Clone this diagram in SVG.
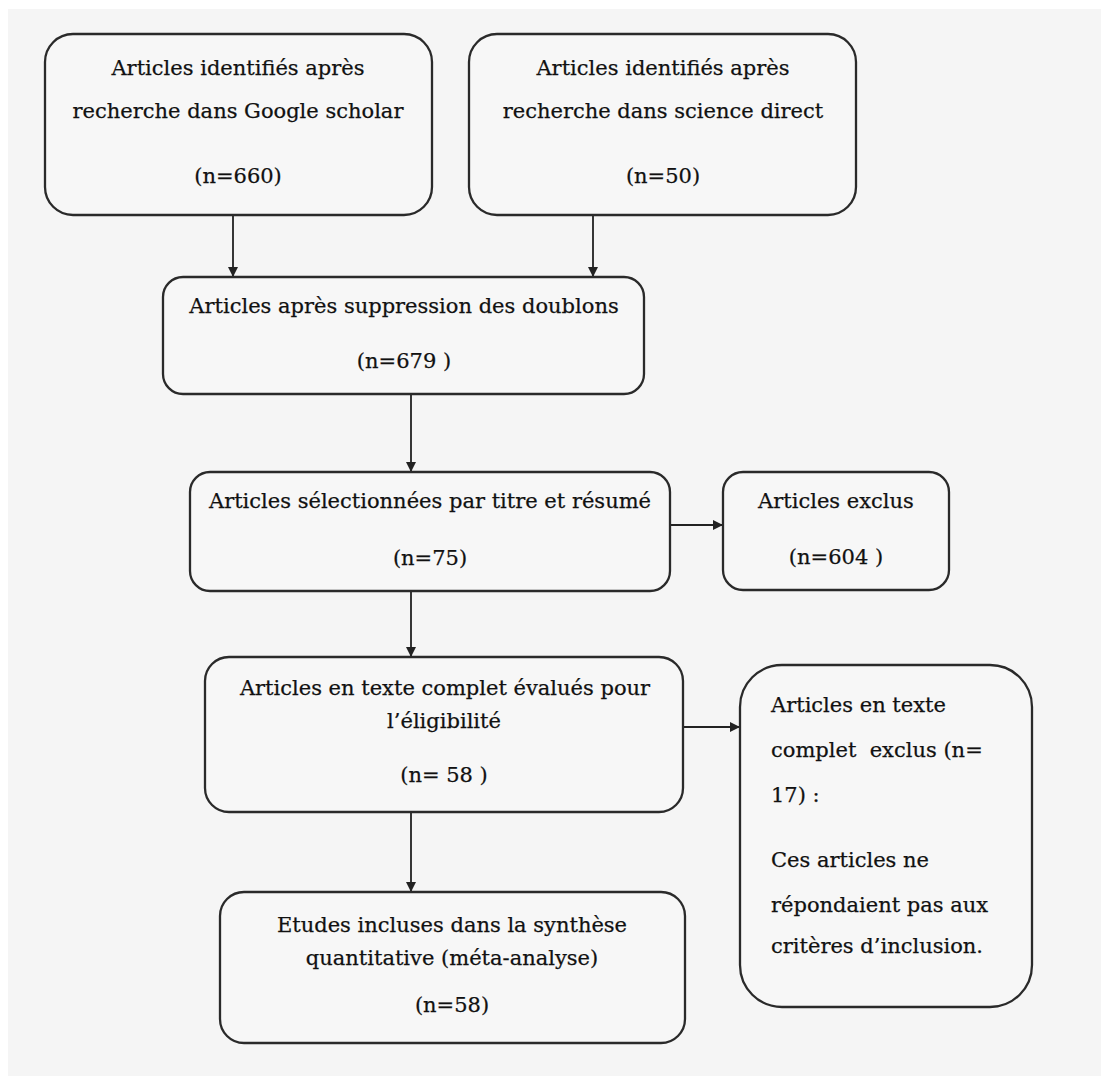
<svg xmlns="http://www.w3.org/2000/svg" width="1101" height="1076" viewBox="0 0 1101 1076">
<style>
.box{fill:#f7f7f7;stroke:#2a2a2a;stroke-width:2.3}
.t{font-family:"DejaVu Serif","Liberation Serif",serif;font-size:21px;fill:#111;stroke:#111;stroke-width:0.25;text-anchor:middle}
.l{text-anchor:start;white-space:pre}
.c{stroke:#222;stroke-width:1.8;fill:none}
</style>
<defs>
<marker id="ah" viewBox="0 0 10 10" refX="10" refY="5" markerWidth="11" markerHeight="10" markerUnits="userSpaceOnUse" orient="auto">
<path d="M0,0 L10,5 L0,10 z" fill="#222"/>
</marker>
</defs>
<rect x="0" y="0" width="1101" height="1076" fill="#ffffff"/>
<rect x="8" y="9" width="1093" height="1067" fill="#f5f5f5"/>

<g id="connectors">
<line class="c" x1="233" y1="215" x2="233" y2="277" marker-end="url(#ah)"/>
<line class="c" x1="593" y1="215" x2="593" y2="277" marker-end="url(#ah)"/>
<line class="c" x1="411" y1="394" x2="411" y2="472" marker-end="url(#ah)"/>
<line class="c" x1="670" y1="525" x2="723" y2="525" marker-end="url(#ah)"/>
<line class="c" x1="411" y1="591" x2="411" y2="657" marker-end="url(#ah)"/>
<line class="c" x1="683" y1="727" x2="740" y2="727" marker-end="url(#ah)"/>
<line class="c" x1="411" y1="812" x2="411" y2="892" marker-end="url(#ah)"/>
</g>

<g id="n1">
<rect class="box" x="45" y="34" width="387" height="181" rx="28"/>
<text class="t" x="238" y="75">Articles identifiés après</text>
<text class="t" x="238" y="118">recherche dans Google scholar</text>
<text class="t" x="238" y="183">(n=660)</text>
</g>
<g id="n2">
<rect class="box" x="469" y="34" width="387" height="181" rx="28"/>
<text class="t" x="663" y="75">Articles identifiés après</text>
<text class="t" x="663" y="118">recherche dans science direct</text>
<text class="t" x="663" y="183">(n=50)</text>
</g>
<g id="n3">
<rect class="box" x="163" y="277" width="481" height="117" rx="20"/>
<text class="t" x="404" y="313">Articles après suppression des doublons</text>
<text class="t" x="404" y="368">(n=679 )</text>
</g>
<g id="n4">
<rect class="box" x="190" y="472" width="480" height="119" rx="20"/>
<text class="t" x="430" y="508">Articles sélectionnées par titre et résumé</text>
<text class="t" x="430" y="565">(n=75)</text>
</g>
<g id="n5">
<rect class="box" x="723" y="472" width="226" height="118" rx="20"/>
<text class="t" x="836" y="508">Articles exclus</text>
<text class="t" x="836" y="564">(n=604 )</text>
</g>
<g id="n6">
<rect class="box" x="205" y="657" width="478" height="155" rx="24"/>
<text class="t" x="445" y="695" font-size="21.5">Articles en texte complet évalués pour</text>
<text class="t" x="444" y="728">l’éligibilité</text>
<text class="t" x="444" y="782">(n= 58 )</text>
</g>
<g id="n7">
<rect class="box" x="740" y="665" width="292" height="342" rx="42"/>
<text class="t l" x="771" y="712">Articles en texte</text>
<text class="t l" x="771" y="757">complet  exclus (n=</text>
<text class="t l" x="771" y="802">17) :</text>
<text class="t l" x="771" y="867">Ces articles ne</text>
<text class="t l" x="771" y="912">répondaient pas aux</text>
<text class="t l" x="771" y="953">critères d’inclusion.</text>
</g>
<g id="n8">
<rect class="box" x="220" y="892" width="465" height="151" rx="24"/>
<text class="t" x="452" y="932">Etudes incluses dans la synthèse</text>
<text class="t" x="452" y="965">quantitative (méta-analyse)</text>
<text class="t" x="452" y="1012">(n=58)</text>
</g>
</svg>
